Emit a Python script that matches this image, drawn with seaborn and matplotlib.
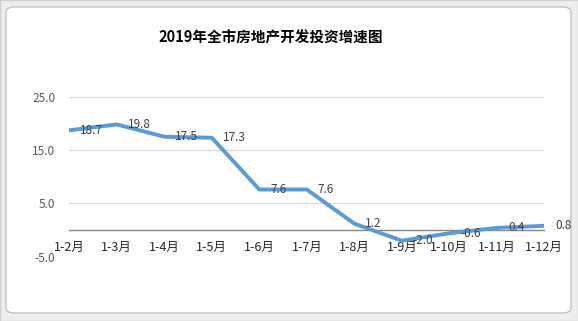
import matplotlib
matplotlib.use("Agg")
import matplotlib.pyplot as plt
import seaborn as sns
import pandas as pd
from matplotlib.patches import FancyBboxPatch, Rectangle

periods = ["1-2月", "1-3月", "1-4月", "1-5月", "1-6月", "1-7月", "1-8月", "1-9月", "1-10月", "1-11月", "1-12月"]
growth = [18.7, 19.8, 17.5, 17.3, 7.6, 7.6, 1.2, -2.0, -0.6, 0.4, 0.8]
yticks = [-5, 5, 15, 25]
title = "2019年全市房地产开发投资增速图"

sns.set_theme(style="white")
plt.rcParams['font.family'] = ['Noto Sans CJK SC', 'DejaVu Sans']

df = pd.DataFrame({"period": periods, "growth": growth, "pos": range(len(periods))})

fig = plt.figure(figsize=(5.78, 3.21), dpi=100)
fig.patch.set_facecolor("white")

# chart frame
fig.patches.append(Rectangle((0, 0), 1, 1, transform=fig.transFigure,
                             facecolor="#EDEDED", edgecolor="#D0D0D0", lw=1, zorder=-3))
fig.patches.append(FancyBboxPatch((6 / 578, 8 / 321), 565 / 578, 306 / 321,
                                  boxstyle="round,pad=0,rounding_size=0.015",
                                  transform=fig.transFigure, facecolor="white",
                                  edgecolor="#C4C4C4", lw=1, zorder=-2))

ax = fig.add_axes([69.3 / 578, 1 - 256.7 / 321, (544.3 - 69.3) / 578, (256.7 - 96.7) / 321])
ax.set_facecolor("none")

sns.lineplot(data=df, x="pos", y="growth", ax=ax, color="#5B9BD5", lw=2.8, zorder=3)

ax.set_xlim(0, len(periods) - 1)
ax.set_ylim(-5, 25)
ax.set_yticks(yticks)
ax.set_yticklabels([f"{v:.1f}" for v in yticks], color="#595959", fontsize=8.5)
ax.tick_params(axis="y", length=0, pad=10)
for v in yticks:
    ax.axhline(v, color="#D9D9D9", lw=0.8, zorder=1)

for s in ["top", "right", "left"]:
    ax.spines[s].set_visible(False)
ax.spines["bottom"].set_position(("data", 0))
ax.spines["bottom"].set_color("#868686")
ax.spines["bottom"].set_linewidth(1)
ax.spines["bottom"].set_zorder(2)

ax.set_xticks(df["pos"])
ax.set_xticklabels(periods, color="#262626", fontsize=9)
ax.tick_params(axis="x", length=0, pad=8)
ax.set_xlabel("")
ax.set_ylabel("")

for x, y in zip(df["pos"], df["growth"]):
    ax.annotate(f"{y:.1f}", (x, y), xytext=(8, 0), textcoords="offset points",
                ha="left", va="center", fontsize=8.5, color="#404040", zorder=4)

fig.text(271 / 578, 1 - 38 / 321, title, ha="center", va="center",
         fontsize=10.5, fontweight="bold", color="black")

fig.savefig("out.png", dpi=100)
